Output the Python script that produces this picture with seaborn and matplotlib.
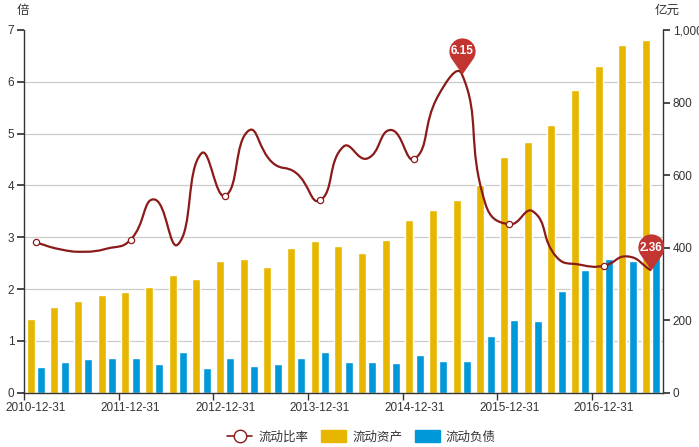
import matplotlib
matplotlib.use("Agg")
import matplotlib.pyplot as plt
import numpy as np
import pandas as pd
import seaborn as sns
from matplotlib.lines import Line2D
from matplotlib.patches import Patch, PathPatch
from matplotlib.path import Path
from matplotlib.ticker import FixedLocator, FuncFormatter

# ---------------------------------------------------------------------------
# Data
# ---------------------------------------------------------------------------
dates = [
    "2010-12-31",
    "2011-03-31", "2011-06-30", "2011-09-30", "2011-12-31",
    "2012-03-31", "2012-06-30", "2012-09-30", "2012-12-31",
    "2013-03-31", "2013-06-30", "2013-09-30", "2013-12-31",
    "2014-03-31", "2014-06-30", "2014-09-30", "2014-12-31",
    "2015-03-31", "2015-06-30", "2015-09-30", "2015-12-31",
    "2016-03-31", "2016-06-30", "2016-09-30", "2016-12-31",
    "2017-03-31", "2017-06-30",
]
current_ratio = [2.90, 2.77, 2.72, 2.78, 2.95, 3.73, 2.86, 4.62, 3.80,
                 5.06, 4.44, 4.24, 3.71, 4.75, 4.52, 5.07, 4.51, 5.73,
                 6.15, 3.64, 3.25, 3.50, 2.62, 2.47, 2.45, 2.63, 2.36]
current_assets = [202, 237, 254, 269, 278, 292, 324, 314, 362,
                  369, 347, 398, 419, 404, 386, 420, 475, 504,
                  531, 573, 650, 691, 739, 835, 901, 959, 972]
current_liab = [70, 86, 93, 97, 95, 78, 113, 68, 95,
                73, 78, 95, 113, 85, 85, 83, 105, 87,
                87, 156, 200, 198, 280, 338, 370, 364, 410]

series_names = ["流动比率", "流动资产", "流动负债"]

LINE_C = "#8b1a1a"
GOLD = "#e6b600"
BLUE = "#0098d9"
PIN_C = "#c23531"
AXIS_C = "#333333"
FS = 8.5

sns.set_theme(style="white")
plt.rcParams["font.family"] = ["Liberation Sans", "Noto Sans CJK SC", "DejaVu Sans"]
plt.rcParams["font.size"] = FS


def smooth_path(ax, xs, ys, smooth=0.5):
    """Bezier path through the points, echarts-style smoothing (pixel space)."""
    pts = ax.transData.transform(np.column_stack([xs, ys]))
    n = len(pts)
    cps = []
    for i in range(n):
        p = pts[i]
        prev = pts[i - 1] if i > 0 else p
        nxt = pts[i + 1] if i < n - 1 else p
        v = (nxt - prev) * smooth
        d0 = np.hypot(*(p - prev))
        d1 = np.hypot(*(p - nxt))
        s = d0 + d1
        if s:
            d0, d1 = d0 / s, d1 / s
        cps.append((p - v * d0, p + v * d1))
    verts = [pts[0]]
    codes = [Path.MOVETO]
    for i in range(n - 1):
        verts += [cps[i][1], cps[i + 1][0], pts[i + 1]]
        codes += [Path.CURVE4] * 3
    verts = ax.transData.inverted().transform(np.array(verts))
    return Path(verts, codes)


def pin_marker():
    r, c = 1.0, 1.75
    a = np.degrees(np.arccos(r / c))
    arc = Path.arc(-90 + a, 270 - a)
    verts = arc.vertices * r + np.array([0, c])
    verts = np.vstack([[0, 0], verts, [0, 0]])
    codes = [Path.MOVETO] + [Path.LINETO] + list(arc.codes[1:]) + [Path.CLOSEPOLY]
    return Path(verts, codes)


# ---------------------------------------------------------------------------
# Figure
# ---------------------------------------------------------------------------
fig = plt.figure(figsize=(6.99, 4.47), dpi=100)
ax2 = fig.add_axes([24 / 699, 54.3 / 447, 639 / 699, 362.7 / 447])  # bars, 亿元
ax = ax2.twinx()  # ratio line, 倍
ax.yaxis.tick_left()
ax2.yaxis.tick_right()
ax.set_zorder(ax2.get_zorder() + 1)
ax.patch.set_visible(False)

df = pd.DataFrame({
    "date": dates * 2,
    "series": [series_names[1]] * len(dates) + [series_names[2]] * len(dates),
    "value": current_assets + current_liab,
})
sns.barplot(data=df, x="date", y="value", hue="series", order=dates,
            hue_order=series_names[1:], palette=[GOLD, BLUE], saturation=1,
            width=0.88, gap=0.22, legend=False, ax=ax2)

n = len(dates)
ax2.set_xlim(-0.5, n - 0.5)
ax2.set_ylim(0, 1000)
ax.set_ylim(0, 7)
ax2.set_xlabel("")
ax2.set_ylabel("")

# grid at the left-axis ticks, behind the bars
ax2.yaxis.set_minor_locator(FixedLocator(np.arange(0, 8) * 1000 / 7))
ax2.grid(which="minor", axis="y", color="#cccccc", lw=0.9)
ax2.grid(which="major", visible=False)
ax2.tick_params(axis="y", which="minor", length=0)
ax2.set_axisbelow(True)

ax2.set_yticks(np.arange(0, 1001, 200))
ax2.yaxis.set_major_formatter(FuncFormatter(lambda v, _: f"{int(v):,}"))
ax2.tick_params(axis="y", which="major", direction="out", length=5, color=AXIS_C,
                labelcolor=AXIS_C, labelsize=FS, pad=2, right=True, left=False)

ax.set_yticks(range(0, 8))
ax.tick_params(axis="y", direction="out", length=5, color=AXIS_C,
               labelcolor=AXIS_C, labelsize=FS, pad=2, left=True, right=False)

# labels on category centres, tick marks on category boundaries
tick_idx = list(range(0, n, 4))
ax2.set_xticks(tick_idx)
ax2.set_xticklabels([dates[i] for i in tick_idx])
ax2.xaxis.set_minor_locator(FixedLocator([i - 0.5 for i in tick_idx]))
ax2.tick_params(axis="x", which="major", length=0, labelcolor=AXIS_C,
                labelsize=FS, pad=7)
ax2.tick_params(axis="x", which="minor", direction="out", length=5,
                color=AXIS_C, bottom=True)

for a in (ax, ax2):
    a.spines["top"].set_visible(False)
ax.spines["right"].set_visible(False)
ax.spines["bottom"].set_visible(False)
ax2.spines["left"].set_visible(False)
for s in (ax.spines["left"], ax2.spines["right"], ax2.spines["bottom"]):
    s.set_color(AXIS_C)
    s.set_linewidth(1.0)

# smooth ratio line
xs = np.arange(n)
ax.add_patch(PathPatch(smooth_path(ax, xs, current_ratio), fill=False,
                       edgecolor=LINE_C, lw=1.6, zorder=3))
ax.plot(xs[::4], np.array(current_ratio)[::4], linestyle="none", marker="o",
        ms=4.5, mfc="white", mec=LINE_C, mew=0.9, zorder=4)

# max / min pins
pin = pin_marker()
for i in (int(np.argmax(current_ratio)), int(np.argmin(current_ratio))):
    ax.plot(xs[i], current_ratio[i], linestyle="none", marker=pin, ms=52,
            color=PIN_C, mew=0, zorder=5)
    ax.annotate(f"{current_ratio[i]:.2f}", (xs[i], current_ratio[i]),
                xytext=(0, 16.5), textcoords="offset points", ha="center",
                va="center", color="white", fontsize=8.5, fontweight="bold",
                zorder=6)

fig.text(23 / 699, 1 - 11 / 447, "倍", ha="center", va="center", fontsize=9,
         color=AXIS_C)
fig.text(667 / 699, 1 - 11 / 447, "亿元", ha="center", va="center", fontsize=9,
         color=AXIS_C)

handles = [
    Line2D([], [], color=LINE_C, lw=1.2, marker="o", ms=9, mfc="white",
           mec=LINE_C, mew=1.0),
    Patch(facecolor=GOLD, edgecolor=GOLD),
    Patch(facecolor=BLUE, edgecolor=BLUE),
]
fig.legend(handles, series_names, loc="center", bbox_to_anchor=(0.517, 10 / 447),
           ncol=3, frameon=False, fontsize=9, handlelength=2.0, handleheight=1.1,
           columnspacing=1.0, handletextpad=0.5, labelcolor=AXIS_C)

fig.savefig("out.png", dpi=100)
